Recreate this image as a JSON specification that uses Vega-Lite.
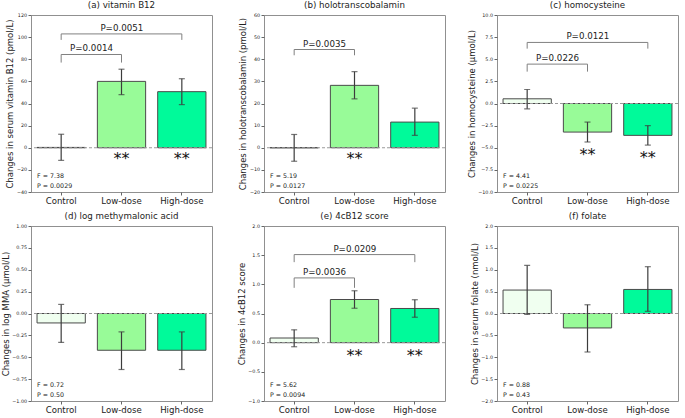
{
"$schema": "https://vega.github.io/schema/vega-lite/v6.json",
"padding": {"left": 0, "top": 0, "right": 2, "bottom": 0},
"background": "white",
"datasets": {
"bars": [
{"panel": "a", "group": "Control", "mean": 0.3, "lo": -11.4, "hi": 12.2, "sig": ""},
{"panel": "a", "group": "Low-dose", "mean": 60, "lo": 48, "hi": 71, "sig": "**"},
{"panel": "a", "group": "High-dose", "mean": 50.7, "lo": 39, "hi": 62.4, "sig": "**"},
{"panel": "b", "group": "Control", "mean": 0, "lo": -6.1, "hi": 6.0, "sig": ""},
{"panel": "b", "group": "Low-dose", "mean": 28.2, "lo": 22.1, "hi": 34.4, "sig": "**"},
{"panel": "b", "group": "High-dose", "mean": 11.6, "lo": 5.6, "hi": 17.9, "sig": ""},
{"panel": "c", "group": "Control", "mean": 0.53, "lo": -0.6, "hi": 1.58, "sig": ""},
{"panel": "c", "group": "Low-dose", "mean": -3.23, "lo": -4.35, "hi": -2.1, "sig": "**"},
{"panel": "c", "group": "High-dose", "mean": -3.6, "lo": -4.7, "hi": -2.5, "sig": "**"},
{"panel": "d", "group": "Control", "mean": -0.108, "lo": -0.33, "hi": 0.104, "sig": ""},
{"panel": "d", "group": "Low-dose", "mean": -0.42, "lo": -0.64, "hi": -0.21, "sig": ""},
{"panel": "d", "group": "High-dose", "mean": -0.42, "lo": -0.64, "hi": -0.21, "sig": ""},
{"panel": "e", "group": "Control", "mean": 0.08, "lo": -0.07, "hi": 0.22, "sig": ""},
{"panel": "e", "group": "Low-dose", "mean": 0.74, "lo": 0.59, "hi": 0.89, "sig": "**"},
{"panel": "e", "group": "High-dose", "mean": 0.586, "lo": 0.436, "hi": 0.736, "sig": "**"},
{"panel": "f", "group": "Control", "mean": 0.536, "lo": -0.02, "hi": 1.10, "sig": ""},
{"panel": "f", "group": "Low-dose", "mean": -0.33, "lo": -0.88, "hi": 0.20, "sig": ""},
{"panel": "f", "group": "High-dose", "mean": 0.55, "lo": 0.05, "hi": 1.07, "sig": ""}
],
"br": [
{"panel": "a", "from": "Control", "to": "Low-dose", "top": 84.3, "bottom": 77, "label": "P=0.0014"},
{"panel": "a", "from": "Control", "to": "High-dose", "top": 102.9, "bottom": 97.5, "label": "P=0.0051"},
{"panel": "b", "from": "Control", "to": "Low-dose", "top": 44.4, "bottom": 41.8, "label": "P=0.0035"},
{"panel": "c", "from": "Control", "to": "Low-dose", "top": 4.45, "bottom": 3.6, "label": "P=0.0226"},
{"panel": "c", "from": "Control", "to": "High-dose", "top": 6.9, "bottom": 6.2, "label": "P=0.0121"},
{"panel": "e", "from": "Control", "to": "Low-dose", "top": 1.11, "bottom": 0.94, "label": "P=0.0036"},
{"panel": "e", "from": "Control", "to": "High-dose", "top": 1.51, "bottom": 1.38, "label": "P=0.0209"}
],
"stats": [
{"panel": "a", "F": "F = 7.38", "P": "P = 0.0029"},
{"panel": "b", "F": "F = 5.19", "P": "P = 0.0127"},
{"panel": "c", "F": "F = 4.41", "P": "P = 0.0225"},
{"panel": "d", "F": "F = 0.72", "P": "P = 0.50"},
{"panel": "e", "F": "F = 5.62", "P": "P = 0.0094"},
{"panel": "f", "F": "F = 0.88", "P": "P = 0.43"}
]
},
"columns": 3,
"spacing": {"row": 34, "column": 52},
"bounds": "flush",
"concat": [
{
"width": 181, "height": 177, "title": "(a) vitamin B12",
"layer": [
{"data": {"name": "bars"}, "transform": [{"filter": "datum.panel=='a'"}], "mark": {"type": "bar", "stroke": "#4a4a4a", "strokeWidth": 1},
 "encoding": {"x": {"field": "group", "type": "nominal", "title": null, "scale": {"domain": ["Control", "Low-dose", "High-dose"], "paddingInner": 0.2, "paddingOuter": 0.1}},
  "y": {"field": "mean", "type": "quantitative", "title": "Changes in serum vitamin B12 (pmol/L)", "scale": {"domain": [-40, 120], "nice": false, "zero": false}, "axis": {"values": [-40, -20, 0, 20, 40, 60, 80, 100, 120], "format": "d", "labelOverlap": false}},
  "color": {"field": "group", "type": "nominal", "scale": {"domain": ["Control", "Low-dose", "High-dose"], "range": ["#F0FFF0", "#98FB98", "#00FA9A"]}, "legend": null}}},
{"data": {"values": [{}]}, "mark": {"type": "rule", "color": "#9a9a9a", "strokeDash": [3, 2], "strokeWidth": 1}, "encoding": {"y": {"datum": 0, "type": "quantitative", "title": "Changes in serum vitamin B12 (pmol/L)", "axis": {"values": [-40, -20, 0, 20, 40, 60, 80, 100, 120], "format": "d", "labelOverlap": false}}}},
{"data": {"name": "bars"}, "transform": [{"filter": "datum.panel=='a'"}], "mark": {"type": "rule", "color": "#3c3c3c", "strokeWidth": 1.2}, "encoding": {"x": {"field": "group", "type": "nominal"}, "y": {"field": "lo", "type": "quantitative", "title": "Changes in serum vitamin B12 (pmol/L)", "axis": {"values": [-40, -20, 0, 20, 40, 60, 80, 100, 120], "format": "d", "labelOverlap": false}}, "y2": {"field": "hi"}}},
{"data": {"name": "bars"}, "transform": [{"filter": "datum.panel=='a'"}], "mark": {"type": "tick", "color": "#3c3c3c", "size": 6, "thickness": 1.2}, "encoding": {"x": {"field": "group", "type": "nominal"}, "y": {"field": "lo", "type": "quantitative", "title": "Changes in serum vitamin B12 (pmol/L)", "axis": {"values": [-40, -20, 0, 20, 40, 60, 80, 100, 120], "format": "d", "labelOverlap": false}}}},
{"data": {"name": "bars"}, "transform": [{"filter": "datum.panel=='a'"}], "mark": {"type": "tick", "color": "#3c3c3c", "size": 6, "thickness": 1.2}, "encoding": {"x": {"field": "group", "type": "nominal"}, "y": {"field": "hi", "type": "quantitative", "title": "Changes in serum vitamin B12 (pmol/L)", "axis": {"values": [-40, -20, 0, 20, 40, 60, 80, 100, 120], "format": "d", "labelOverlap": false}}}},
{"data": {"name": "bars"}, "transform": [{"filter": "datum.panel=='a' && datum.sig=='**' && datum.mean>0"}], "mark": {"type": "text", "fontSize": 16, "fontWeight": "normal", "baseline": "middle", "dy": 11, "fill": "#111"}, "encoding": {"x": {"field": "group", "type": "nominal"}, "y": {"datum": 0, "type": "quantitative", "title": "Changes in serum vitamin B12 (pmol/L)", "axis": {"values": [-40, -20, 0, 20, 40, 60, 80, 100, 120], "format": "d", "labelOverlap": false}}, "text": {"field": "sig"}}},
{"data": {"name": "stats"}, "transform": [{"filter": "datum.panel=='a'"}], "mark": {"type": "text", "fontSize": 6.3, "align": "left", "baseline": "bottom", "dy": -13, "fill": "#222"}, "encoding": {"x": {"datum": "Control", "type": "nominal", "bandPosition": 0}, "y": {"datum": -40, "type": "quantitative", "title": "Changes in serum vitamin B12 (pmol/L)", "axis": {"values": [-40, -20, 0, 20, 40, 60, 80, 100, 120], "format": "d", "labelOverlap": false}}, "text": {"field": "F"}}},
{"data": {"name": "stats"}, "transform": [{"filter": "datum.panel=='a'"}], "mark": {"type": "text", "fontSize": 6.3, "align": "left", "baseline": "bottom", "dy": -3, "fill": "#222"}, "encoding": {"x": {"datum": "Control", "type": "nominal", "bandPosition": 0}, "y": {"datum": -40, "type": "quantitative", "title": "Changes in serum vitamin B12 (pmol/L)", "axis": {"values": [-40, -20, 0, 20, 40, 60, 80, 100, 120], "format": "d", "labelOverlap": false}}, "text": {"field": "P"}}},
{"data": {"name": "br"}, "transform": [{"filter": "datum.panel=='a'"}], "mark": {"type": "rule", "color": "#808080", "strokeWidth": 1}, "encoding": {"x": {"field": "from", "type": "nominal"}, "x2": {"field": "to"}, "y": {"field": "top", "type": "quantitative", "title": "Changes in serum vitamin B12 (pmol/L)", "axis": {"values": [-40, -20, 0, 20, 40, 60, 80, 100, 120], "format": "d", "labelOverlap": false}}}},
{"data": {"name": "br"}, "transform": [{"filter": "datum.panel=='a'"}], "mark": {"type": "rule", "color": "#808080", "strokeWidth": 1}, "encoding": {"x": {"field": "from", "type": "nominal"}, "y": {"field": "top", "type": "quantitative", "title": "Changes in serum vitamin B12 (pmol/L)", "axis": {"values": [-40, -20, 0, 20, 40, 60, 80, 100, 120], "format": "d", "labelOverlap": false}}, "y2": {"field": "bottom"}}},
{"data": {"name": "br"}, "transform": [{"filter": "datum.panel=='a'"}], "mark": {"type": "rule", "color": "#808080", "strokeWidth": 1}, "encoding": {"x": {"field": "to", "type": "nominal"}, "y": {"field": "top", "type": "quantitative", "title": "Changes in serum vitamin B12 (pmol/L)", "axis": {"values": [-40, -20, 0, 20, 40, 60, 80, 100, 120], "format": "d", "labelOverlap": false}}, "y2": {"field": "bottom"}}},
{"data": {"name": "br"}, "transform": [{"filter": "datum.panel=='a' && datum.to=='Low-dose'"}], "mark": {"type": "text", "fontSize": 8.7, "baseline": "bottom", "dx": -30, "dy": -1, "fill": "#222"}, "encoding": {"x": {"field": "to", "type": "nominal"}, "y": {"field": "top", "type": "quantitative", "title": "Changes in serum vitamin B12 (pmol/L)", "axis": {"values": [-40, -20, 0, 20, 40, 60, 80, 100, 120], "format": "d", "labelOverlap": false}}, "text": {"field": "label"}}},
{"data": {"name": "br"}, "transform": [{"filter": "datum.panel=='a' && datum.to=='High-dose'"}], "mark": {"type": "text", "fontSize": 8.7, "baseline": "bottom", "dx": -60, "dy": -1, "fill": "#222"}, "encoding": {"x": {"field": "to", "type": "nominal"}, "y": {"field": "top", "type": "quantitative", "title": "Changes in serum vitamin B12 (pmol/L)", "axis": {"values": [-40, -20, 0, 20, 40, 60, 80, 100, 120], "format": "d", "labelOverlap": false}}, "text": {"field": "label"}}}
]
},
{
"width": 181, "height": 177, "title": "(b) holotranscobalamin",
"layer": [
{"data": {"name": "bars"}, "transform": [{"filter": "datum.panel=='b'"}], "mark": {"type": "bar", "stroke": "#4a4a4a", "strokeWidth": 1},
 "encoding": {"x": {"field": "group", "type": "nominal", "title": null, "scale": {"domain": ["Control", "Low-dose", "High-dose"], "paddingInner": 0.2, "paddingOuter": 0.1}},
  "y": {"field": "mean", "type": "quantitative", "title": "Changes in holotranscobalamin (pmol/L)", "scale": {"domain": [-20, 60], "nice": false, "zero": false}, "axis": {"values": [-20, -10, 0, 10, 20, 30, 40, 50, 60], "format": "d", "labelOverlap": false}},
  "color": {"field": "group", "type": "nominal", "scale": {"domain": ["Control", "Low-dose", "High-dose"], "range": ["#F0FFF0", "#98FB98", "#00FA9A"]}, "legend": null}}},
{"data": {"values": [{}]}, "mark": {"type": "rule", "color": "#9a9a9a", "strokeDash": [3, 2], "strokeWidth": 1}, "encoding": {"y": {"datum": 0, "type": "quantitative", "title": "Changes in holotranscobalamin (pmol/L)", "axis": {"values": [-20, -10, 0, 10, 20, 30, 40, 50, 60], "format": "d", "labelOverlap": false}}}},
{"data": {"name": "bars"}, "transform": [{"filter": "datum.panel=='b'"}], "mark": {"type": "rule", "color": "#3c3c3c", "strokeWidth": 1.2}, "encoding": {"x": {"field": "group", "type": "nominal"}, "y": {"field": "lo", "type": "quantitative", "title": "Changes in holotranscobalamin (pmol/L)", "axis": {"values": [-20, -10, 0, 10, 20, 30, 40, 50, 60], "format": "d", "labelOverlap": false}}, "y2": {"field": "hi"}}},
{"data": {"name": "bars"}, "transform": [{"filter": "datum.panel=='b'"}], "mark": {"type": "tick", "color": "#3c3c3c", "size": 6, "thickness": 1.2}, "encoding": {"x": {"field": "group", "type": "nominal"}, "y": {"field": "lo", "type": "quantitative", "title": "Changes in holotranscobalamin (pmol/L)", "axis": {"values": [-20, -10, 0, 10, 20, 30, 40, 50, 60], "format": "d", "labelOverlap": false}}}},
{"data": {"name": "bars"}, "transform": [{"filter": "datum.panel=='b'"}], "mark": {"type": "tick", "color": "#3c3c3c", "size": 6, "thickness": 1.2}, "encoding": {"x": {"field": "group", "type": "nominal"}, "y": {"field": "hi", "type": "quantitative", "title": "Changes in holotranscobalamin (pmol/L)", "axis": {"values": [-20, -10, 0, 10, 20, 30, 40, 50, 60], "format": "d", "labelOverlap": false}}}},
{"data": {"name": "bars"}, "transform": [{"filter": "datum.panel=='b' && datum.sig=='**' && datum.mean>0"}], "mark": {"type": "text", "fontSize": 16, "fontWeight": "normal", "baseline": "middle", "dy": 11, "fill": "#111"}, "encoding": {"x": {"field": "group", "type": "nominal"}, "y": {"datum": 0, "type": "quantitative", "title": "Changes in holotranscobalamin (pmol/L)", "axis": {"values": [-20, -10, 0, 10, 20, 30, 40, 50, 60], "format": "d", "labelOverlap": false}}, "text": {"field": "sig"}}},
{"data": {"name": "stats"}, "transform": [{"filter": "datum.panel=='b'"}], "mark": {"type": "text", "fontSize": 6.3, "align": "left", "baseline": "bottom", "dy": -13, "fill": "#222"}, "encoding": {"x": {"datum": "Control", "type": "nominal", "bandPosition": 0}, "y": {"datum": -20, "type": "quantitative", "title": "Changes in holotranscobalamin (pmol/L)", "axis": {"values": [-20, -10, 0, 10, 20, 30, 40, 50, 60], "format": "d", "labelOverlap": false}}, "text": {"field": "F"}}},
{"data": {"name": "stats"}, "transform": [{"filter": "datum.panel=='b'"}], "mark": {"type": "text", "fontSize": 6.3, "align": "left", "baseline": "bottom", "dy": -3, "fill": "#222"}, "encoding": {"x": {"datum": "Control", "type": "nominal", "bandPosition": 0}, "y": {"datum": -20, "type": "quantitative", "title": "Changes in holotranscobalamin (pmol/L)", "axis": {"values": [-20, -10, 0, 10, 20, 30, 40, 50, 60], "format": "d", "labelOverlap": false}}, "text": {"field": "P"}}},
{"data": {"name": "br"}, "transform": [{"filter": "datum.panel=='b'"}], "mark": {"type": "rule", "color": "#808080", "strokeWidth": 1}, "encoding": {"x": {"field": "from", "type": "nominal"}, "x2": {"field": "to"}, "y": {"field": "top", "type": "quantitative", "title": "Changes in holotranscobalamin (pmol/L)", "axis": {"values": [-20, -10, 0, 10, 20, 30, 40, 50, 60], "format": "d", "labelOverlap": false}}}},
{"data": {"name": "br"}, "transform": [{"filter": "datum.panel=='b'"}], "mark": {"type": "rule", "color": "#808080", "strokeWidth": 1}, "encoding": {"x": {"field": "from", "type": "nominal"}, "y": {"field": "top", "type": "quantitative", "title": "Changes in holotranscobalamin (pmol/L)", "axis": {"values": [-20, -10, 0, 10, 20, 30, 40, 50, 60], "format": "d", "labelOverlap": false}}, "y2": {"field": "bottom"}}},
{"data": {"name": "br"}, "transform": [{"filter": "datum.panel=='b'"}], "mark": {"type": "rule", "color": "#808080", "strokeWidth": 1}, "encoding": {"x": {"field": "to", "type": "nominal"}, "y": {"field": "top", "type": "quantitative", "title": "Changes in holotranscobalamin (pmol/L)", "axis": {"values": [-20, -10, 0, 10, 20, 30, 40, 50, 60], "format": "d", "labelOverlap": false}}, "y2": {"field": "bottom"}}},
{"data": {"name": "br"}, "transform": [{"filter": "datum.panel=='b' && datum.to=='Low-dose'"}], "mark": {"type": "text", "fontSize": 8.7, "baseline": "bottom", "dx": -30, "dy": -1, "fill": "#222"}, "encoding": {"x": {"field": "to", "type": "nominal"}, "y": {"field": "top", "type": "quantitative", "title": "Changes in holotranscobalamin (pmol/L)", "axis": {"values": [-20, -10, 0, 10, 20, 30, 40, 50, 60], "format": "d", "labelOverlap": false}}, "text": {"field": "label"}}}
]
},
{
"width": 181, "height": 177, "title": "(c) homocysteine",
"layer": [
{"data": {"name": "bars"}, "transform": [{"filter": "datum.panel=='c'"}], "mark": {"type": "bar", "stroke": "#4a4a4a", "strokeWidth": 1},
 "encoding": {"x": {"field": "group", "type": "nominal", "title": null, "scale": {"domain": ["Control", "Low-dose", "High-dose"], "paddingInner": 0.2, "paddingOuter": 0.1}},
  "y": {"field": "mean", "type": "quantitative", "title": "Changes in homocysteine (μmol/L)", "scale": {"domain": [-10, 10], "nice": false, "zero": false}, "axis": {"values": [-10, -7.5, -5, -2.5, 0, 2.5, 5, 7.5, 10], "format": ".1f", "labelOverlap": false}},
  "color": {"field": "group", "type": "nominal", "scale": {"domain": ["Control", "Low-dose", "High-dose"], "range": ["#F0FFF0", "#98FB98", "#00FA9A"]}, "legend": null}}},
{"data": {"values": [{}]}, "mark": {"type": "rule", "color": "#9a9a9a", "strokeDash": [3, 2], "strokeWidth": 1}, "encoding": {"y": {"datum": 0, "type": "quantitative", "title": "Changes in homocysteine (μmol/L)", "axis": {"values": [-10, -7.5, -5, -2.5, 0, 2.5, 5, 7.5, 10], "format": ".1f", "labelOverlap": false}}}},
{"data": {"name": "bars"}, "transform": [{"filter": "datum.panel=='c'"}], "mark": {"type": "rule", "color": "#3c3c3c", "strokeWidth": 1.2}, "encoding": {"x": {"field": "group", "type": "nominal"}, "y": {"field": "lo", "type": "quantitative", "title": "Changes in homocysteine (μmol/L)", "axis": {"values": [-10, -7.5, -5, -2.5, 0, 2.5, 5, 7.5, 10], "format": ".1f", "labelOverlap": false}}, "y2": {"field": "hi"}}},
{"data": {"name": "bars"}, "transform": [{"filter": "datum.panel=='c'"}], "mark": {"type": "tick", "color": "#3c3c3c", "size": 6, "thickness": 1.2}, "encoding": {"x": {"field": "group", "type": "nominal"}, "y": {"field": "lo", "type": "quantitative", "title": "Changes in homocysteine (μmol/L)", "axis": {"values": [-10, -7.5, -5, -2.5, 0, 2.5, 5, 7.5, 10], "format": ".1f", "labelOverlap": false}}}},
{"data": {"name": "bars"}, "transform": [{"filter": "datum.panel=='c'"}], "mark": {"type": "tick", "color": "#3c3c3c", "size": 6, "thickness": 1.2}, "encoding": {"x": {"field": "group", "type": "nominal"}, "y": {"field": "hi", "type": "quantitative", "title": "Changes in homocysteine (μmol/L)", "axis": {"values": [-10, -7.5, -5, -2.5, 0, 2.5, 5, 7.5, 10], "format": ".1f", "labelOverlap": false}}}},
{"data": {"name": "bars"}, "transform": [{"filter": "datum.panel=='c' && datum.sig=='**' && datum.mean<0"}], "mark": {"type": "text", "fontSize": 16, "fontWeight": "normal", "baseline": "middle", "dy": 13, "fill": "#111"}, "encoding": {"x": {"field": "group", "type": "nominal"}, "y": {"field": "lo", "type": "quantitative", "title": "Changes in homocysteine (μmol/L)", "axis": {"values": [-10, -7.5, -5, -2.5, 0, 2.5, 5, 7.5, 10], "format": ".1f", "labelOverlap": false}}, "text": {"field": "sig"}}},
{"data": {"name": "stats"}, "transform": [{"filter": "datum.panel=='c'"}], "mark": {"type": "text", "fontSize": 6.3, "align": "left", "baseline": "bottom", "dy": -13, "fill": "#222"}, "encoding": {"x": {"datum": "Control", "type": "nominal", "bandPosition": 0}, "y": {"datum": -10, "type": "quantitative", "title": "Changes in homocysteine (μmol/L)", "axis": {"values": [-10, -7.5, -5, -2.5, 0, 2.5, 5, 7.5, 10], "format": ".1f", "labelOverlap": false}}, "text": {"field": "F"}}},
{"data": {"name": "stats"}, "transform": [{"filter": "datum.panel=='c'"}], "mark": {"type": "text", "fontSize": 6.3, "align": "left", "baseline": "bottom", "dy": -3, "fill": "#222"}, "encoding": {"x": {"datum": "Control", "type": "nominal", "bandPosition": 0}, "y": {"datum": -10, "type": "quantitative", "title": "Changes in homocysteine (μmol/L)", "axis": {"values": [-10, -7.5, -5, -2.5, 0, 2.5, 5, 7.5, 10], "format": ".1f", "labelOverlap": false}}, "text": {"field": "P"}}},
{"data": {"name": "br"}, "transform": [{"filter": "datum.panel=='c'"}], "mark": {"type": "rule", "color": "#808080", "strokeWidth": 1}, "encoding": {"x": {"field": "from", "type": "nominal"}, "x2": {"field": "to"}, "y": {"field": "top", "type": "quantitative", "title": "Changes in homocysteine (μmol/L)", "axis": {"values": [-10, -7.5, -5, -2.5, 0, 2.5, 5, 7.5, 10], "format": ".1f", "labelOverlap": false}}}},
{"data": {"name": "br"}, "transform": [{"filter": "datum.panel=='c'"}], "mark": {"type": "rule", "color": "#808080", "strokeWidth": 1}, "encoding": {"x": {"field": "from", "type": "nominal"}, "y": {"field": "top", "type": "quantitative", "title": "Changes in homocysteine (μmol/L)", "axis": {"values": [-10, -7.5, -5, -2.5, 0, 2.5, 5, 7.5, 10], "format": ".1f", "labelOverlap": false}}, "y2": {"field": "bottom"}}},
{"data": {"name": "br"}, "transform": [{"filter": "datum.panel=='c'"}], "mark": {"type": "rule", "color": "#808080", "strokeWidth": 1}, "encoding": {"x": {"field": "to", "type": "nominal"}, "y": {"field": "top", "type": "quantitative", "title": "Changes in homocysteine (μmol/L)", "axis": {"values": [-10, -7.5, -5, -2.5, 0, 2.5, 5, 7.5, 10], "format": ".1f", "labelOverlap": false}}, "y2": {"field": "bottom"}}},
{"data": {"name": "br"}, "transform": [{"filter": "datum.panel=='c' && datum.to=='Low-dose'"}], "mark": {"type": "text", "fontSize": 8.7, "baseline": "bottom", "dx": -30, "dy": -1, "fill": "#222"}, "encoding": {"x": {"field": "to", "type": "nominal"}, "y": {"field": "top", "type": "quantitative", "title": "Changes in homocysteine (μmol/L)", "axis": {"values": [-10, -7.5, -5, -2.5, 0, 2.5, 5, 7.5, 10], "format": ".1f", "labelOverlap": false}}, "text": {"field": "label"}}},
{"data": {"name": "br"}, "transform": [{"filter": "datum.panel=='c' && datum.to=='High-dose'"}], "mark": {"type": "text", "fontSize": 8.7, "baseline": "bottom", "dx": -60, "dy": -1, "fill": "#222"}, "encoding": {"x": {"field": "to", "type": "nominal"}, "y": {"field": "top", "type": "quantitative", "title": "Changes in homocysteine (μmol/L)", "axis": {"values": [-10, -7.5, -5, -2.5, 0, 2.5, 5, 7.5, 10], "format": ".1f", "labelOverlap": false}}, "text": {"field": "label"}}}
]
},
{
"width": 181, "height": 175, "title": "(d) log methymalonic acid",
"layer": [
{"data": {"name": "bars"}, "transform": [{"filter": "datum.panel=='d'"}], "mark": {"type": "bar", "stroke": "#4a4a4a", "strokeWidth": 1},
 "encoding": {"x": {"field": "group", "type": "nominal", "title": null, "scale": {"domain": ["Control", "Low-dose", "High-dose"], "paddingInner": 0.2, "paddingOuter": 0.1}},
  "y": {"field": "mean", "type": "quantitative", "title": "Changes in log MMA (μmol/L)", "scale": {"domain": [-1, 1], "nice": false, "zero": false}, "axis": {"values": [-1, -0.75, -0.5, -0.25, 0, 0.25, 0.5, 0.75, 1], "format": ".2f", "labelOverlap": false}},
  "color": {"field": "group", "type": "nominal", "scale": {"domain": ["Control", "Low-dose", "High-dose"], "range": ["#F0FFF0", "#98FB98", "#00FA9A"]}, "legend": null}}},
{"data": {"values": [{}]}, "mark": {"type": "rule", "color": "#9a9a9a", "strokeDash": [3, 2], "strokeWidth": 1}, "encoding": {"y": {"datum": 0, "type": "quantitative", "title": "Changes in log MMA (μmol/L)", "axis": {"values": [-1, -0.75, -0.5, -0.25, 0, 0.25, 0.5, 0.75, 1], "format": ".2f", "labelOverlap": false}}}},
{"data": {"name": "bars"}, "transform": [{"filter": "datum.panel=='d'"}], "mark": {"type": "rule", "color": "#3c3c3c", "strokeWidth": 1.2}, "encoding": {"x": {"field": "group", "type": "nominal"}, "y": {"field": "lo", "type": "quantitative", "title": "Changes in log MMA (μmol/L)", "axis": {"values": [-1, -0.75, -0.5, -0.25, 0, 0.25, 0.5, 0.75, 1], "format": ".2f", "labelOverlap": false}}, "y2": {"field": "hi"}}},
{"data": {"name": "bars"}, "transform": [{"filter": "datum.panel=='d'"}], "mark": {"type": "tick", "color": "#3c3c3c", "size": 6, "thickness": 1.2}, "encoding": {"x": {"field": "group", "type": "nominal"}, "y": {"field": "lo", "type": "quantitative", "title": "Changes in log MMA (μmol/L)", "axis": {"values": [-1, -0.75, -0.5, -0.25, 0, 0.25, 0.5, 0.75, 1], "format": ".2f", "labelOverlap": false}}}},
{"data": {"name": "bars"}, "transform": [{"filter": "datum.panel=='d'"}], "mark": {"type": "tick", "color": "#3c3c3c", "size": 6, "thickness": 1.2}, "encoding": {"x": {"field": "group", "type": "nominal"}, "y": {"field": "hi", "type": "quantitative", "title": "Changes in log MMA (μmol/L)", "axis": {"values": [-1, -0.75, -0.5, -0.25, 0, 0.25, 0.5, 0.75, 1], "format": ".2f", "labelOverlap": false}}}},
{"data": {"name": "stats"}, "transform": [{"filter": "datum.panel=='d'"}], "mark": {"type": "text", "fontSize": 6.3, "align": "left", "baseline": "bottom", "dy": -13, "fill": "#222"}, "encoding": {"x": {"datum": "Control", "type": "nominal", "bandPosition": 0}, "y": {"datum": -1, "type": "quantitative", "title": "Changes in log MMA (μmol/L)", "axis": {"values": [-1, -0.75, -0.5, -0.25, 0, 0.25, 0.5, 0.75, 1], "format": ".2f", "labelOverlap": false}}, "text": {"field": "F"}}},
{"data": {"name": "stats"}, "transform": [{"filter": "datum.panel=='d'"}], "mark": {"type": "text", "fontSize": 6.3, "align": "left", "baseline": "bottom", "dy": -3, "fill": "#222"}, "encoding": {"x": {"datum": "Control", "type": "nominal", "bandPosition": 0}, "y": {"datum": -1, "type": "quantitative", "title": "Changes in log MMA (μmol/L)", "axis": {"values": [-1, -0.75, -0.5, -0.25, 0, 0.25, 0.5, 0.75, 1], "format": ".2f", "labelOverlap": false}}, "text": {"field": "P"}}}
]
},
{
"width": 181, "height": 175, "title": "(e) 4cB12 score",
"layer": [
{"data": {"name": "bars"}, "transform": [{"filter": "datum.panel=='e'"}], "mark": {"type": "bar", "stroke": "#4a4a4a", "strokeWidth": 1},
 "encoding": {"x": {"field": "group", "type": "nominal", "title": null, "scale": {"domain": ["Control", "Low-dose", "High-dose"], "paddingInner": 0.2, "paddingOuter": 0.1}},
  "y": {"field": "mean", "type": "quantitative", "title": "Changes in 4cB12 score", "scale": {"domain": [-1, 2], "nice": false, "zero": false}, "axis": {"values": [-1, -0.5, 0, 0.5, 1, 1.5, 2], "format": ".1f", "labelOverlap": false}},
  "color": {"field": "group", "type": "nominal", "scale": {"domain": ["Control", "Low-dose", "High-dose"], "range": ["#F0FFF0", "#98FB98", "#00FA9A"]}, "legend": null}}},
{"data": {"values": [{}]}, "mark": {"type": "rule", "color": "#9a9a9a", "strokeDash": [3, 2], "strokeWidth": 1}, "encoding": {"y": {"datum": 0, "type": "quantitative", "title": "Changes in 4cB12 score", "axis": {"values": [-1, -0.5, 0, 0.5, 1, 1.5, 2], "format": ".1f", "labelOverlap": false}}}},
{"data": {"name": "bars"}, "transform": [{"filter": "datum.panel=='e'"}], "mark": {"type": "rule", "color": "#3c3c3c", "strokeWidth": 1.2}, "encoding": {"x": {"field": "group", "type": "nominal"}, "y": {"field": "lo", "type": "quantitative", "title": "Changes in 4cB12 score", "axis": {"values": [-1, -0.5, 0, 0.5, 1, 1.5, 2], "format": ".1f", "labelOverlap": false}}, "y2": {"field": "hi"}}},
{"data": {"name": "bars"}, "transform": [{"filter": "datum.panel=='e'"}], "mark": {"type": "tick", "color": "#3c3c3c", "size": 6, "thickness": 1.2}, "encoding": {"x": {"field": "group", "type": "nominal"}, "y": {"field": "lo", "type": "quantitative", "title": "Changes in 4cB12 score", "axis": {"values": [-1, -0.5, 0, 0.5, 1, 1.5, 2], "format": ".1f", "labelOverlap": false}}}},
{"data": {"name": "bars"}, "transform": [{"filter": "datum.panel=='e'"}], "mark": {"type": "tick", "color": "#3c3c3c", "size": 6, "thickness": 1.2}, "encoding": {"x": {"field": "group", "type": "nominal"}, "y": {"field": "hi", "type": "quantitative", "title": "Changes in 4cB12 score", "axis": {"values": [-1, -0.5, 0, 0.5, 1, 1.5, 2], "format": ".1f", "labelOverlap": false}}}},
{"data": {"name": "bars"}, "transform": [{"filter": "datum.panel=='e' && datum.sig=='**' && datum.mean>0"}], "mark": {"type": "text", "fontSize": 16, "fontWeight": "normal", "baseline": "middle", "dy": 13, "fill": "#111"}, "encoding": {"x": {"field": "group", "type": "nominal"}, "y": {"datum": 0, "type": "quantitative", "title": "Changes in 4cB12 score", "axis": {"values": [-1, -0.5, 0, 0.5, 1, 1.5, 2], "format": ".1f", "labelOverlap": false}}, "text": {"field": "sig"}}},
{"data": {"name": "stats"}, "transform": [{"filter": "datum.panel=='e'"}], "mark": {"type": "text", "fontSize": 6.3, "align": "left", "baseline": "bottom", "dy": -13, "fill": "#222"}, "encoding": {"x": {"datum": "Control", "type": "nominal", "bandPosition": 0}, "y": {"datum": -1, "type": "quantitative", "title": "Changes in 4cB12 score", "axis": {"values": [-1, -0.5, 0, 0.5, 1, 1.5, 2], "format": ".1f", "labelOverlap": false}}, "text": {"field": "F"}}},
{"data": {"name": "stats"}, "transform": [{"filter": "datum.panel=='e'"}], "mark": {"type": "text", "fontSize": 6.3, "align": "left", "baseline": "bottom", "dy": -3, "fill": "#222"}, "encoding": {"x": {"datum": "Control", "type": "nominal", "bandPosition": 0}, "y": {"datum": -1, "type": "quantitative", "title": "Changes in 4cB12 score", "axis": {"values": [-1, -0.5, 0, 0.5, 1, 1.5, 2], "format": ".1f", "labelOverlap": false}}, "text": {"field": "P"}}},
{"data": {"name": "br"}, "transform": [{"filter": "datum.panel=='e'"}], "mark": {"type": "rule", "color": "#808080", "strokeWidth": 1}, "encoding": {"x": {"field": "from", "type": "nominal"}, "x2": {"field": "to"}, "y": {"field": "top", "type": "quantitative", "title": "Changes in 4cB12 score", "axis": {"values": [-1, -0.5, 0, 0.5, 1, 1.5, 2], "format": ".1f", "labelOverlap": false}}}},
{"data": {"name": "br"}, "transform": [{"filter": "datum.panel=='e'"}], "mark": {"type": "rule", "color": "#808080", "strokeWidth": 1}, "encoding": {"x": {"field": "from", "type": "nominal"}, "y": {"field": "top", "type": "quantitative", "title": "Changes in 4cB12 score", "axis": {"values": [-1, -0.5, 0, 0.5, 1, 1.5, 2], "format": ".1f", "labelOverlap": false}}, "y2": {"field": "bottom"}}},
{"data": {"name": "br"}, "transform": [{"filter": "datum.panel=='e'"}], "mark": {"type": "rule", "color": "#808080", "strokeWidth": 1}, "encoding": {"x": {"field": "to", "type": "nominal"}, "y": {"field": "top", "type": "quantitative", "title": "Changes in 4cB12 score", "axis": {"values": [-1, -0.5, 0, 0.5, 1, 1.5, 2], "format": ".1f", "labelOverlap": false}}, "y2": {"field": "bottom"}}},
{"data": {"name": "br"}, "transform": [{"filter": "datum.panel=='e' && datum.to=='Low-dose'"}], "mark": {"type": "text", "fontSize": 8.7, "baseline": "bottom", "dx": -30, "dy": -1, "fill": "#222"}, "encoding": {"x": {"field": "to", "type": "nominal"}, "y": {"field": "top", "type": "quantitative", "title": "Changes in 4cB12 score", "axis": {"values": [-1, -0.5, 0, 0.5, 1, 1.5, 2], "format": ".1f", "labelOverlap": false}}, "text": {"field": "label"}}},
{"data": {"name": "br"}, "transform": [{"filter": "datum.panel=='e' && datum.to=='High-dose'"}], "mark": {"type": "text", "fontSize": 8.7, "baseline": "bottom", "dx": -60, "dy": -1, "fill": "#222"}, "encoding": {"x": {"field": "to", "type": "nominal"}, "y": {"field": "top", "type": "quantitative", "title": "Changes in 4cB12 score", "axis": {"values": [-1, -0.5, 0, 0.5, 1, 1.5, 2], "format": ".1f", "labelOverlap": false}}, "text": {"field": "label"}}}
]
},
{
"width": 181, "height": 175, "title": "(f) folate",
"layer": [
{"data": {"name": "bars"}, "transform": [{"filter": "datum.panel=='f'"}], "mark": {"type": "bar", "stroke": "#4a4a4a", "strokeWidth": 1},
 "encoding": {"x": {"field": "group", "type": "nominal", "title": null, "scale": {"domain": ["Control", "Low-dose", "High-dose"], "paddingInner": 0.2, "paddingOuter": 0.1}},
  "y": {"field": "mean", "type": "quantitative", "title": "Changes in serum folate (nmol/L)", "scale": {"domain": [-2, 2], "nice": false, "zero": false}, "axis": {"values": [-2, -1.5, -1, -0.5, 0, 0.5, 1, 1.5, 2], "format": ".1f", "labelOverlap": false}},
  "color": {"field": "group", "type": "nominal", "scale": {"domain": ["Control", "Low-dose", "High-dose"], "range": ["#F0FFF0", "#98FB98", "#00FA9A"]}, "legend": null}}},
{"data": {"values": [{}]}, "mark": {"type": "rule", "color": "#9a9a9a", "strokeDash": [3, 2], "strokeWidth": 1}, "encoding": {"y": {"datum": 0, "type": "quantitative", "title": "Changes in serum folate (nmol/L)", "axis": {"values": [-2, -1.5, -1, -0.5, 0, 0.5, 1, 1.5, 2], "format": ".1f", "labelOverlap": false}}}},
{"data": {"name": "bars"}, "transform": [{"filter": "datum.panel=='f'"}], "mark": {"type": "rule", "color": "#3c3c3c", "strokeWidth": 1.2}, "encoding": {"x": {"field": "group", "type": "nominal"}, "y": {"field": "lo", "type": "quantitative", "title": "Changes in serum folate (nmol/L)", "axis": {"values": [-2, -1.5, -1, -0.5, 0, 0.5, 1, 1.5, 2], "format": ".1f", "labelOverlap": false}}, "y2": {"field": "hi"}}},
{"data": {"name": "bars"}, "transform": [{"filter": "datum.panel=='f'"}], "mark": {"type": "tick", "color": "#3c3c3c", "size": 6, "thickness": 1.2}, "encoding": {"x": {"field": "group", "type": "nominal"}, "y": {"field": "lo", "type": "quantitative", "title": "Changes in serum folate (nmol/L)", "axis": {"values": [-2, -1.5, -1, -0.5, 0, 0.5, 1, 1.5, 2], "format": ".1f", "labelOverlap": false}}}},
{"data": {"name": "bars"}, "transform": [{"filter": "datum.panel=='f'"}], "mark": {"type": "tick", "color": "#3c3c3c", "size": 6, "thickness": 1.2}, "encoding": {"x": {"field": "group", "type": "nominal"}, "y": {"field": "hi", "type": "quantitative", "title": "Changes in serum folate (nmol/L)", "axis": {"values": [-2, -1.5, -1, -0.5, 0, 0.5, 1, 1.5, 2], "format": ".1f", "labelOverlap": false}}}},
{"data": {"name": "stats"}, "transform": [{"filter": "datum.panel=='f'"}], "mark": {"type": "text", "fontSize": 6.3, "align": "left", "baseline": "bottom", "dy": -13, "fill": "#222"}, "encoding": {"x": {"datum": "Control", "type": "nominal", "bandPosition": 0}, "y": {"datum": -2, "type": "quantitative", "title": "Changes in serum folate (nmol/L)", "axis": {"values": [-2, -1.5, -1, -0.5, 0, 0.5, 1, 1.5, 2], "format": ".1f", "labelOverlap": false}}, "text": {"field": "F"}}},
{"data": {"name": "stats"}, "transform": [{"filter": "datum.panel=='f'"}], "mark": {"type": "text", "fontSize": 6.3, "align": "left", "baseline": "bottom", "dy": -3, "fill": "#222"}, "encoding": {"x": {"datum": "Control", "type": "nominal", "bandPosition": 0}, "y": {"datum": -2, "type": "quantitative", "title": "Changes in serum folate (nmol/L)", "axis": {"values": [-2, -1.5, -1, -0.5, 0, 0.5, 1, 1.5, 2], "format": ".1f", "labelOverlap": false}}, "text": {"field": "P"}}}
]
}
],
"config": {
"font": "DejaVu Sans",
"view": {"stroke": "#909090", "strokeWidth": 1},
"axis": {"domain": false, "grid": false, "tickColor": "#666", "tickSize": 3, "labelColor": "#222", "titleColor": "#222", "titleFontWeight": "normal", "labelFont": "DejaVu Sans", "titleFont": "DejaVu Sans", "labelOverlap": false},
"axisX": {"labelFontSize": 8.6, "labelPadding": 1, "labelAngle": 0},
"axisY": {"labelFontSize": 4.8, "labelPadding": 1.5, "titleFontSize": 8.5, "titlePadding": 1.5, "labelFlush": false},
"title": {"fontSize": 8.7, "fontWeight": "normal", "offset": 2, "color": "#222", "font": "DejaVu Sans"},
"text": {"font": "DejaVu Sans"}
}
}
